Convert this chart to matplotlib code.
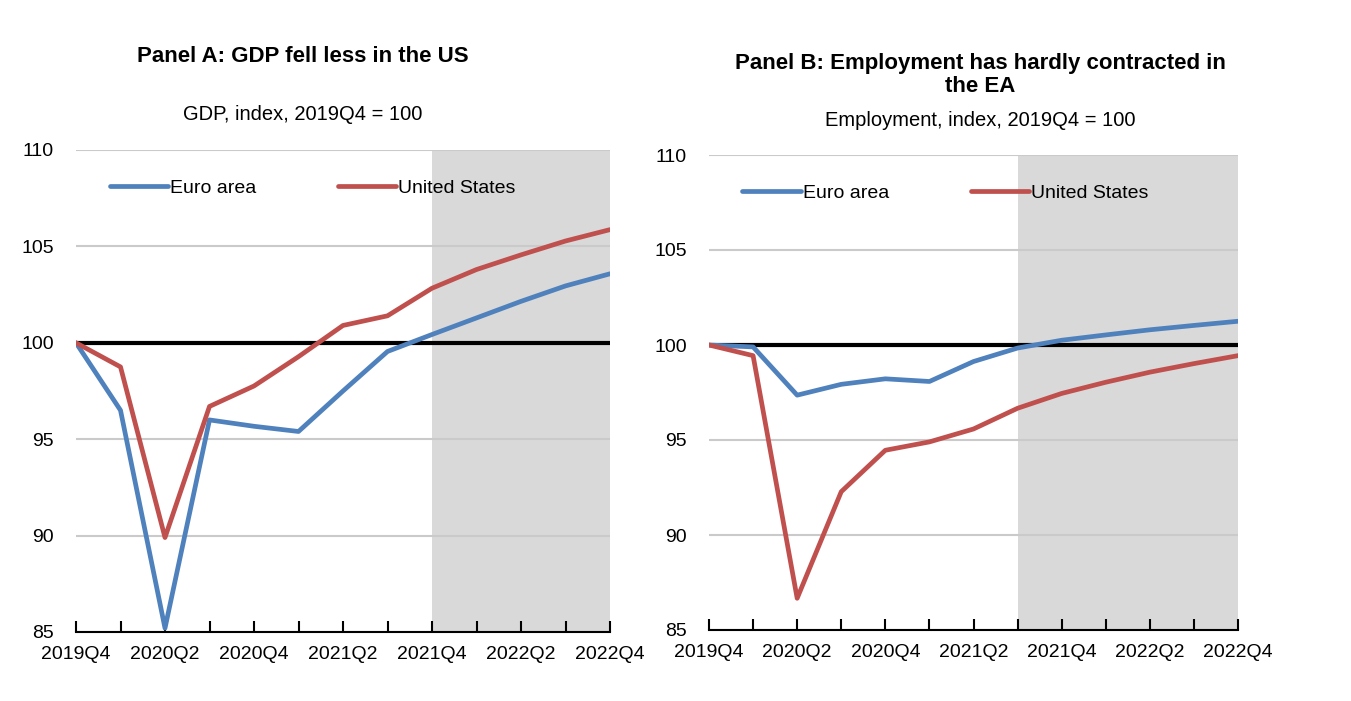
import numpy as np
import matplotlib
matplotlib.use("Agg")
import matplotlib.pyplot as plt

plt.rcParams["font.family"] = ["Liberation Sans", "DejaVu Sans"]

quarters = ["2019Q4", "2020Q1", "2020Q2", "2020Q3", "2020Q4", "2021Q1", "2021Q2",
            "2021Q3", "2021Q4", "2022Q1", "2022Q2", "2022Q3", "2022Q4"]

gdp_ea = [100, 96.5, 85.2, 96.0, 95.67, 95.4, 97.5, 99.55, 100.43, 101.29, 102.15, 102.95, 103.58]
gdp_us = [100, 98.75, 89.9, 96.7, 97.76, 99.28, 100.9, 101.4, 102.83, 103.8, 104.56, 105.28, 105.87]

emp_ea = [100, 99.9, 97.36, 97.93, 98.22, 98.08, 99.13, 99.84, 100.25, 100.53, 100.8, 101.03, 101.25]
emp_us = [100, 99.44, 86.67, 92.28, 94.46, 94.9, 95.58, 96.67, 97.45, 98.04, 98.57, 99.02, 99.44]

# first projected quarter in each panel
proj_start_a = "2021Q4"
proj_start_b = "2021Q3"

blue = "#4F81BD"
red = "#C0504D"

fig = plt.figure(figsize=(13.51, 7.01), dpi=100)
ax_a = fig.add_axes([76 / 1351, 1 - 632 / 701, 534 / 1351, 482 / 701])
ax_b = fig.add_axes([709 / 1351, 1 - 630 / 701, 529 / 1351, 475 / 701])


def draw_panel(ax, ea, us, proj_start):
    x = np.arange(len(quarters))
    ax.axvspan(quarters.index(proj_start), len(quarters) - 1, color="#D9D9D9", lw=0, zorder=0)
    for v in [85, 90, 95, 105, 110]:
        ax.axhline(v, color="#CACACA", lw=1.5, zorder=1)
    ax.axhline(100, color="black", lw=3, zorder=2)
    ax.plot(x, ea, color=blue, lw=3.4, label="Euro area", zorder=3, solid_capstyle="round")
    ax.plot(x, us, color=red, lw=3.4, label="United States", zorder=3, solid_capstyle="round")
    ax.set_xlim(0, len(quarters) - 1)
    ax.set_ylim(85, 110)
    ax.set_yticks([85, 90, 95, 100, 105, 110])
    ax.set_xticks(x)
    ax.set_xticklabels([q if i % 2 == 0 else "" for i, q in enumerate(quarters)])
    for s in ["top", "right", "left"]:
        ax.spines[s].set_visible(False)
    ax.spines["bottom"].set_linewidth(1.5)
    ax.tick_params(axis="x", direction="in", length=8, width=1.5, labelsize=14, pad=10)
    ax.tick_params(axis="y", length=0, labelsize=14, pad=16)
    ax.legend(loc="upper left", bbox_to_anchor=(0.03, 0.975), ncol=2, frameon=False,
              fontsize=14, handlelength=3.0, handletextpad=0.1, columnspacing=4.2)


draw_panel(ax_a, gdp_ea, gdp_us, proj_start_a)
draw_panel(ax_b, emp_ea, emp_us, proj_start_b)

fig.text(303 / 1351, 1 - 57 / 701, "Panel A: GDP fell less in the US",
         ha="center", va="center", fontsize=16, fontweight="bold")
fig.text(303 / 1351, 1 - 115 / 701, "GDP, index, 2019Q4 = 100",
         ha="center", va="center", fontsize=14.5)
fig.text(980 / 1351, 1 - 75 / 701, "Panel B: Employment has hardly contracted in\nthe EA",
         ha="center", va="center", fontsize=16, fontweight="bold", linespacing=1.15)
fig.text(980 / 1351, 1 - 120 / 701, "Employment, index, 2019Q4 = 100",
         ha="center", va="center", fontsize=14.5)

fig.savefig("out.png", dpi=100)
